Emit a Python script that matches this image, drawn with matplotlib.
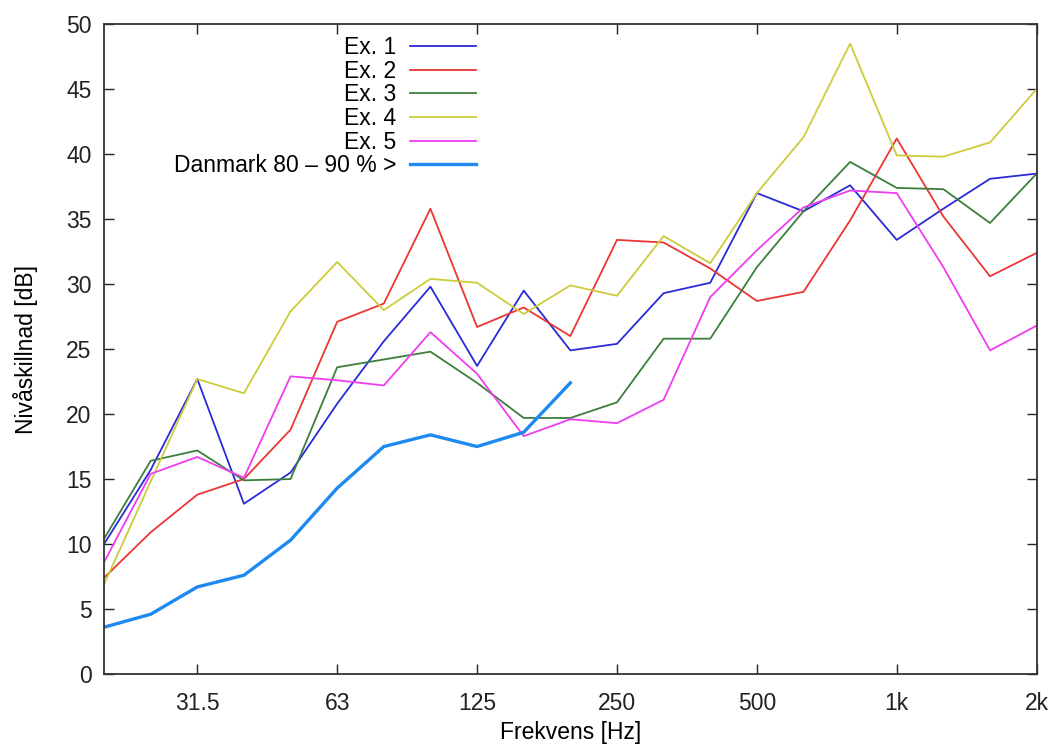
import matplotlib
matplotlib.use("Agg")
import matplotlib.pyplot as plt

plt.rcParams['font.family'] = ['Liberation Sans', 'DejaVu Sans']

# third-octave bands 20 Hz .. 2 kHz
bands = ['20', '25', '31.5', '40', '50', '63', '80', '100', '125', '160', '200',
         '250', '315', '400', '500', '630', '800', '1k', '1250', '1600', '2k']
tick_bands = ['31.5', '63', '125', '250', '500', '1k', '2k']

ex1 = [10.0, 15.7, 22.7, 13.1, 15.5, 20.8, 25.6, 29.8, 23.7, 29.5, 24.9,
       25.4, 29.3, 30.1, 37.0, 35.6, 37.6, 33.4, 35.8, 38.1, 38.5]
ex2 = [7.4, 10.9, 13.8, 15.0, 18.8, 27.1, 28.5, 35.8, 26.7, 28.2, 26.0,
       33.4, 33.2, 31.2, 28.7, 29.4, 34.9, 41.2, 35.2, 30.6, 32.4]
ex3 = [10.4, 16.4, 17.2, 14.9, 15.0, 23.6, 24.2, 24.8, 22.4, 19.7, 19.7,
       20.9, 25.8, 25.8, 31.3, 35.6, 39.4, 37.4, 37.3, 34.7, 38.5]
ex4 = [6.9, 14.8, 22.7, 21.6, 27.9, 31.7, 28.0, 30.4, 30.1, 27.7, 29.9,
       29.1, 33.7, 31.6, 37.0, 41.3, 48.5, 39.9, 39.8, 40.9, 45.0]
ex5 = [8.6, 15.4, 16.7, 15.1, 22.9, 22.6, 22.2, 26.3, 23.1, 18.3, 19.6,
       19.3, 21.1, 29.0, 32.6, 35.9, 37.2, 37.0, 31.3, 24.9, 26.8]
danmark = [3.6, 4.6, 6.7, 7.6, 10.3, 14.3, 17.5, 18.4, 17.5, 18.6, 22.4]

series = [
    ('Ex. 1', ex1, '#2a2ad8', 1.3),
    ('Ex. 2', ex2, '#ec3535', 1.3),
    ('Ex. 3', ex3, '#3c7f3c', 1.3),
    ('Ex. 4', ex4, '#cccc3a', 1.3),
    ('Ex. 5', ex5, '#f03cf0', 1.3),
    ('Danmark 80 – 90 % >', danmark, '#1e8af0', 2.4),
]

fig = plt.figure(figsize=(10.55, 7.47), dpi=100)
ax = fig.add_axes([0.0986, 0.0977, 0.884, 0.870])

x = list(range(len(bands)))
for label, vals, col, lw in series:
    ax.plot(x[:len(vals)], vals, color=col, lw=lw, label=label)

ax.set_xlim(0, len(bands) - 1)
ax.set_ylim(0, 50)
ax.set_xticks([bands.index(b) for b in tick_bands])
ax.set_xticklabels(tick_bands)
ax.set_yticks(range(0, 51, 5))
ax.tick_params(direction='in', length=7, width=1, labelsize=16.5,
               top=True, right=True, colors='#222222')
ax.tick_params(axis='x', pad=13)
ax.tick_params(axis='y', pad=9)
for s in ax.spines.values():
    s.set_linewidth(1.3)
    s.set_color('#333333')

ax.set_xlabel('Frekvens [Hz]', fontsize=16.5, labelpad=4)
ax.set_ylabel('Nivåskillnad [dB]', fontsize=16.5, labelpad=20)

ax.legend(loc='upper left', bbox_to_anchor=(0.06, 1.003), frameon=False,
          markerfirst=False, fontsize=16.5, handlelength=2.9, handletextpad=0.6,
          labelspacing=0.03, borderaxespad=0.2)

fig.savefig('out.png', dpi=100)
